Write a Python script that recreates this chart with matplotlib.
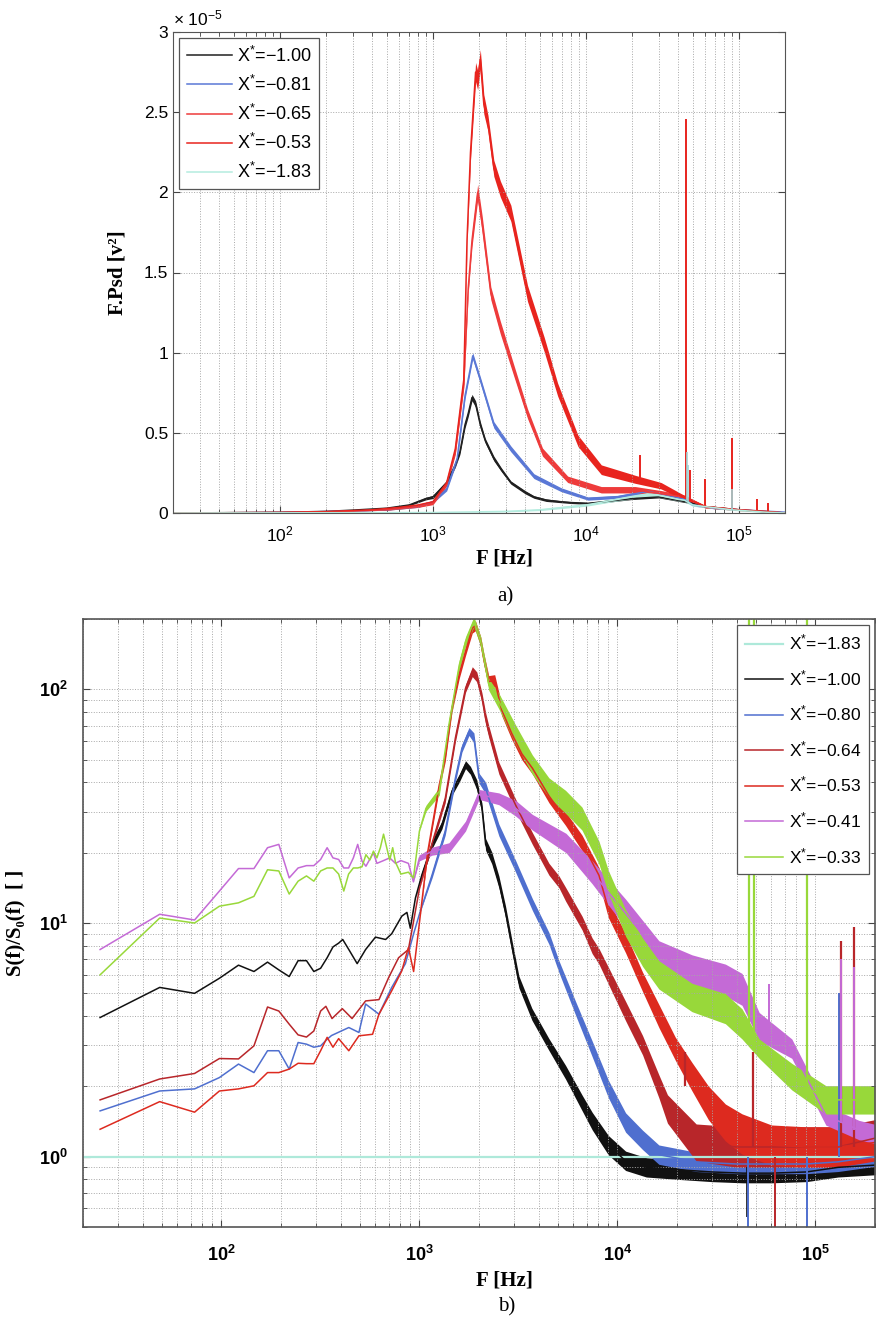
import matplotlib.pyplot as plt
import numpy as np

plt.rcParams['font.family'] = ['Liberation Sans', 'DejaVu Sans']
plt.rcParams['mathtext.fontset'] = 'custom'
plt.rcParams['mathtext.rm'] = 'Liberation Sans'
plt.rcParams['mathtext.it'] = 'Liberation Sans:italic'
plt.rcParams['mathtext.bf'] = 'Liberation Sans:bold'

# ---------------- panel a) : F.Psd in units of 1e-5 v^2 ----------------
a_black_f = [20, 100, 200, 300, 500, 700, 900, 1000, 1230, 1400,
             1500, 1620, 1700, 1800, 1900, 2040, 2200, 2500, 2800, 3230,
             4000, 4570, 5500, 6900, 8000, 10300, 13000, 20000, 30000, 45000,
             60000, 100000, 200000]
a_black_y = [0.0, 0.004, 0.01, 0.018, 0.03, 0.05, 0.09, 0.10, 0.19, 0.30,
             0.38, 0.55, 0.62, 0.72, 0.68, 0.55, 0.45, 0.34, 0.27, 0.19,
             0.13, 0.10, 0.08, 0.07, 0.065, 0.06, 0.07, 0.09, 0.10, 0.07,
             0.04, 0.02, 0.0]
a_black_s = [0, 0, 0, 0, 0.004, 0.005, 0.008, 0.01, 0.012, 0.015,
             0.015, 0.02, 0.02, 0.02, 0.02, 0.02, 0.015, 0.015, 0.012, 0.01,
             0.01, 0.008, 0.008, 0.006, 0.006, 0.006, 0.006, 0.006, 0.006, 0.006,
             0.004, 0.003, 0]

a_blue_f = [20, 100, 300, 500, 800, 1000, 1230, 1440, 1620, 1820,
            2040, 2500, 3230, 4570, 6900, 10300, 16000, 25600, 38000, 44000,
            50000, 70000, 100000, 200000]
a_blue_y = [0.0, 0.003, 0.012, 0.02, 0.04, 0.07, 0.15, 0.34, 0.73, 0.98,
            0.83, 0.55, 0.40, 0.23, 0.145, 0.09, 0.10, 0.135, 0.10, 0.085,
            0.05, 0.03, 0.02, 0.005]
a_blue_s = [0, 0, 0, 0.003, 0.005, 0.008, 0.012, 0.015, 0.02, 0.02,
            0.02, 0.02, 0.018, 0.015, 0.012, 0.01, 0.01, 0.01, 0.01, 0.008,
            0.006, 0.005, 0.003, 0]

a_red65_f = [20, 100, 300, 500, 800, 1000, 1230, 1400, 1590, 1700,
             1800, 1960, 2100, 2390, 2750, 3400, 4150, 5200, 7600, 12600,
             21000, 31000, 43000, 60000, 100000, 200000]
a_red65_y = [0.0, 0.003, 0.012, 0.02, 0.04, 0.06, 0.18, 0.38, 0.80, 1.40,
             1.70, 2.00, 1.80, 1.37, 1.16, 0.88, 0.62, 0.38, 0.21, 0.145,
             0.145, 0.12, 0.10, 0.04, 0.02, 0.0]
a_red65_s = [0, 0, 0, 0.003, 0.005, 0.008, 0.012, 0.015, 0.02, 0.03,
             0.04, 0.05, 0.05, 0.04, 0.04, 0.035, 0.03, 0.025, 0.02, 0.02,
             0.02, 0.02, 0.015, 0.008, 0.005, 0]

a_red53_f = [20, 100, 200, 400, 600, 800, 1000, 1230, 1400, 1590,
             1670, 1760, 1900, 1960, 2040, 2150, 2290, 2500, 2760, 3230,
             3700, 4150, 5340, 6530, 8870, 12600, 21000, 31000, 43000, 60000,
             100000, 150000, 200000]
a_red53_y = [0.0, 0.003, 0.008, 0.02, 0.035, 0.05, 0.07, 0.19, 0.40, 0.83,
             1.70, 2.25, 2.75, 2.70, 2.83, 2.55, 2.43, 2.15, 2.02, 1.87,
             1.60, 1.37, 1.05, 0.77, 0.45, 0.27, 0.21, 0.17, 0.10, 0.04,
             0.02, 0.01, 0.0]
a_red53_s = [0, 0, 0, 0.003, 0.004, 0.005, 0.008, 0.012, 0.015, 0.02,
             0.03, 0.05, 0.06, 0.06, 0.06, 0.06, 0.05, 0.05, 0.05, 0.05,
             0.05, 0.05, 0.045, 0.04, 0.035, 0.03, 0.025, 0.02, 0.015, 0.008,
             0.005, 0.003, 0]

a_cyan_f = [20, 1000, 3000, 5000, 10000, 15000, 20000, 25000, 30000, 40000,
            44000, 50000, 60000, 90000, 150000, 200000]
a_cyan_y = [0.0, 0.003, 0.01, 0.02, 0.05, 0.08, 0.10, 0.115, 0.11, 0.085,
            0.08, 0.05, 0.04, 0.02, 0.005, 0.0]
a_cyan_s = [0, 0, 0.003, 0.005, 0.008, 0.01, 0.012, 0.012, 0.012, 0.01,
            0.01, 0.008, 0.006, 0.004, 0.002, 0]

# narrow peaks (f, base, top)
a_spk_red_f = [22600, 45000, 48000, 60000, 90000, 132000, 155000]
a_spk_red_lo = [0.20, 0.10, 0.08, 0.04, 0.03, 0.01, 0.01]
a_spk_red_hi = [0.36, 2.46, 0.27, 0.21, 0.47, 0.09, 0.06]
a_spk_cyan_f = [45500, 46500, 90000]
a_spk_cyan_lo = [0.08, 0.07, 0.02]
a_spk_cyan_hi = [0.38, 0.30, 0.15]

a_labels = ['X$^{*}$=\u22121.00', 'X$^{*}$=\u22120.81', 'X$^{*}$=\u22120.65',
            'X$^{*}$=\u22120.53', 'X$^{*}$=\u22121.83']
a_yticks = [0, 0.5, 1, 1.5, 2, 2.5, 3]

# ---------------- panel b) : S(f)/S0(f) ----------------
b_cyan_f = [20, 200000]
b_cyan_y = [1.0, 1.0]
b_cyan_s = [1.0, 1.0]

b_black_f = [24.4, 48.8, 73.2, 97.7, 122, 146, 171, 195, 220, 244,
             269, 293, 317, 342, 366, 391, 410, 440, 485, 535,
             600, 675, 725, 815, 865, 900, 955, 1030, 1160, 1300,
             1460, 1590, 1710, 1810, 1950, 2070, 2160, 2320, 2520, 2720,
             2930, 3180, 3700, 4500, 5470, 6630, 7460, 9000, 11000, 14000,
             20000, 30000, 43000, 60000, 90000, 130000, 200000]
b_black_y = [3.94, 5.3, 5.0, 5.8, 6.6, 6.2, 6.8, 6.3, 5.9, 6.9,
             6.9, 6.2, 6.4, 7.1, 7.9, 8.2, 8.5, 7.7, 6.7, 7.7,
             8.7, 8.5, 9.0, 10.7, 11.1, 9.5, 12.8, 16.1, 21.7, 26.3,
             36.6, 41.7, 47.6, 45.0, 39.0, 31.0, 21.7, 19.0, 15.0, 11.2,
             8.0, 5.6, 4.07, 3.03, 2.3, 1.7, 1.42, 1.12, 0.96, 0.9,
             0.88, 0.86, 0.85, 0.85, 0.86, 0.9, 0.92]
b_black_s = [1.0] * 27 + [1.03, 1.04, 1.04, 1.04, 1.04, 1.04, 1.04, 1.05, 1.05, 1.06,
                          1.06, 1.06, 1.06, 1.06, 1.06, 1.06, 1.06, 1.07, 1.08, 1.09,
                          1.1, 1.1, 1.1, 1.1, 1.1, 1.1, 1.1, 1.1, 1.1, 1.1]

b_blue_f = [24.4, 48.8, 73.2, 97.7, 122, 146, 171, 195, 220, 244,
            269, 293, 317, 342, 360, 440, 495, 535, 625, 725,
            850, 935, 1000, 1160, 1350, 1520, 1640, 1780, 1885, 2000,
            2160, 2520, 3060, 3720, 4510, 5070, 6160, 7450, 9000, 11000,
            13400, 16200, 25000, 40000, 60000, 90000, 130000, 200000]
b_blue_y = [1.57, 1.91, 1.95, 2.18, 2.49, 2.29, 2.84, 2.84, 2.37, 3.08,
            3.03, 2.94, 2.98, 3.18, 3.3, 3.57, 3.4, 4.5, 4.07, 5.3,
            6.7, 9.0, 10.9, 16.1, 24.7, 41.7, 56.0, 66.0, 62.0, 41.7,
            37.8, 25.0, 17.5, 12.0, 8.6, 6.5, 4.3, 2.9, 1.95, 1.4,
            1.18, 1.02, 0.95, 0.93, 0.93, 0.93, 0.95, 1.0]
b_blue_s = [1.0] * 23 + [1.03, 1.04, 1.04, 1.04, 1.04, 1.05, 1.05, 1.06, 1.06, 1.06,
                         1.06, 1.06, 1.06, 1.07, 1.08, 1.09, 1.1, 1.1, 1.1, 1.1,
                         1.1, 1.1, 1.1, 1.1, 1.1]

b_red64_f = [24.4, 48.8, 73.2, 97.7, 122, 146, 171, 195, 220, 244,
             269, 293, 317, 337, 362, 408, 457, 535, 625, 700,
             785, 880, 935, 1000, 1160, 1350, 1520, 1710, 1850, 1950,
             2070, 2160, 2240, 2520, 3060, 3720, 4510, 5070, 5470, 6630,
             7450, 8070, 11000, 13400, 16200, 17900, 25000, 40000, 60000, 90000,
             130000, 200000]
b_red64_y = [1.75, 2.15, 2.27, 2.63, 2.62, 2.98, 4.37, 4.2, 3.69, 3.32,
             3.25, 3.45, 4.2, 4.4, 3.9, 4.3, 3.9, 4.64, 4.7, 5.85,
             7.1, 7.7, 10.2, 14.0, 22.0, 34.0, 62.0, 101.0, 119.0, 113.0,
             92.0, 75.0, 66.0, 46.0, 32.0, 23.0, 17.0, 15.0, 13.3, 10.0,
             8.0, 7.2, 4.2, 3.0, 2.0, 1.6, 1.15, 1.1, 1.1, 1.1,
             1.1, 1.2]
b_red64_s = [1.0] * 24 + [1.03, 1.04, 1.04, 1.04, 1.05, 1.05, 1.05, 1.06, 1.06, 1.06,
                          1.06, 1.06, 1.06, 1.06, 1.07, 1.07, 1.08, 1.08, 1.1, 1.1,
                          1.12, 1.15, 1.2, 1.22, 1.22, 1.22, 1.22, 1.2]

b_red53_f = [24.4, 48.8, 73.2, 97.7, 122, 146, 171, 195, 220, 244,
             269, 293, 317, 342, 366, 391, 440, 495, 580, 625,
             725, 815, 880, 935, 1000, 1100, 1260, 1350, 1460, 1590,
             1710, 1850, 1920, 2040, 2110, 2240, 2400, 2600, 2920, 3290,
             3720, 4510, 5470, 6630, 8070, 9000, 11000, 13400, 16200, 19600,
             23800, 28800, 35100, 42600, 60000, 90000, 130000, 200000]
b_red53_y = [1.31, 1.72, 1.55, 1.91, 1.95, 2.01, 2.29, 2.29, 2.37, 2.51,
             2.5, 2.5, 2.84, 3.24, 2.94, 3.2, 2.84, 3.29, 3.34, 4.07,
             5.13, 6.24, 7.85, 6.2, 10.0, 20.0, 39.0, 51.0, 83.0, 116.0,
             145.0, 183.0, 187.0, 160.0, 136.0, 108.0, 109.0, 82.0, 65.0, 53.0,
             46.0, 35.0, 28.0, 22.0, 16.0, 11.5, 8.2, 5.6, 4.0, 2.9,
             2.2, 1.7, 1.4, 1.25, 1.12, 1.1, 1.1, 1.15]
b_red53_s = [1.0] * 25 + [1.03, 1.04, 1.04, 1.04, 1.04, 1.04, 1.05, 1.05, 1.05, 1.06,
                          1.06, 1.06, 1.06, 1.06, 1.06, 1.06, 1.07, 1.07, 1.08, 1.08,
                          1.09, 1.1, 1.1, 1.12, 1.12, 1.15, 1.18, 1.2, 1.22, 1.22,
                          1.22, 1.22, 1.2]

b_purple_f = [24.4, 48.8, 73.2, 97.7, 122, 146, 171, 195, 220, 244,
              269, 293, 317, 342, 366, 391, 415, 439, 464, 488,
              513, 537, 586, 610, 659, 708, 757, 806, 880, 933,
              1000, 1160, 1410, 1710, 2000, 2520, 3060, 3720, 5500, 7450,
              11000, 16200, 23800, 35100, 42600, 52000, 76000, 113000, 166000, 200000]
b_purple_y = [7.7, 10.9, 10.3, 13.7, 17.1, 17.1, 21.0, 21.7, 15.6, 17.2,
              17.6, 17.6, 18.7, 21.0, 19.0, 18.7, 17.2, 17.2, 19.0, 21.7,
              18.4, 17.5, 20.0, 18.0, 18.5, 19.0, 18.0, 18.5, 18.0, 15.0,
              19.0, 20.3, 21.0, 26.0, 35.5, 34.0, 31.0, 27.0, 22.0, 16.5,
              11.0, 7.3, 6.3, 5.7, 5.2, 3.6, 2.9, 1.5, 1.3, 1.25]
b_purple_s = [1.0] * 30 + [1.03, 1.04, 1.05, 1.05, 1.05, 1.06, 1.08, 1.08, 1.1, 1.12,
                           1.15, 1.15, 1.16, 1.17, 1.17, 1.15, 1.1, 1.1, 1.1, 1.1]

b_green_f = [24.4, 48.8, 73.2, 97.7, 122, 146, 171, 195, 220, 244,
             269, 293, 317, 342, 366, 391, 415, 439, 464, 488,
             513, 537, 562, 586, 610, 635, 659, 684, 708, 733,
             757, 781, 806, 880, 933, 1000, 1080, 1260, 1410, 1590,
             1710, 1885, 2040, 2240, 2520, 3060, 3720, 4510, 5470, 6620,
             8070, 9000, 11000, 13400, 16200, 23800, 35100, 42600, 52000, 76000,
             113000, 200000]
b_green_y = [6.0, 10.5, 10.0, 11.8, 12.2, 13.0, 16.9, 16.7, 13.3, 15.1,
             15.9, 15.1, 16.7, 17.2, 17.2, 16.2, 13.7, 16.2, 17.2, 17.2,
             17.4, 19.6, 18.6, 20.3, 19.0, 21.0, 24.0, 21.0, 18.6, 21.0,
             18.2, 17.2, 16.2, 16.5, 15.6, 24.7, 31.0, 36.6, 70.6, 127.0,
             160.0, 195.0, 160.0, 105.0, 89.0, 64.0, 47.6, 38.0, 33.0, 28.0,
             20.0, 15.0, 10.0, 7.5, 6.0, 4.8, 4.3, 3.7, 2.9, 2.2,
             1.75, 1.75]
b_green_s = [1.0] * 36 + [1.03, 1.04, 1.05, 1.05,
                          1.05, 1.05, 1.05, 1.06, 1.08, 1.1, 1.1, 1.1, 1.12, 1.12,
                          1.12, 1.12, 1.14, 1.15, 1.15, 1.15, 1.16, 1.16, 1.1, 1.14,
                          1.15, 1.15]

# narrow peaks / dips (f, from, to)
b_spk_green = ([46000, 48700, 90500], [3.0, 2.9, 1.8], [200, 200, 200])
b_spk_purple = ([58000, 134000, 157000], [3.0, 1.4, 1.3], [5.5, 7.0, 6.5])
b_spk_red53 = ([22000, 48600, 134000, 157000], [2.0, 1.1, 1.1, 1.1], [2.8, 2.8, 8.4, 9.6])
b_spk_red64 = ([62500], [0.5], [1.0])
b_spk_blue = ([45500, 90500, 131000], [0.5, 0.5, 1.0], [1.0, 1.0, 5.0])
b_spk_black = ([45000], [0.55], [0.9])

b_labels = ['X$^{*}$=\u22121.83', 'X$^{*}$=\u22121.00', 'X$^{*}$=\u22120.80',
            'X$^{*}$=\u22120.64', 'X$^{*}$=\u22120.53', 'X$^{*}$=\u22120.41',
            'X$^{*}$=\u22120.33']


def band_lin(ax, f, y, s, color, label, lw=1.1):
    f = np.array(f); y = np.array(y); s = np.array(s)
    ax.fill_between(f, y - s, y + s, color=color, lw=0)
    line, = ax.plot(f, y, color=color, lw=lw, label=label)
    return line


def band_log(ax, f, y, s, color, label, lw=1.1):
    f = np.array(f); y = np.array(y); s = np.array(s)
    ax.fill_between(f, y / s, y * s, color=color, lw=0)
    line, = ax.plot(f, y, color=color, lw=lw, label=label)
    return line


W, H = 879, 1329
fig = plt.figure(figsize=(W / 100, H / 100), dpi=100)
serif = ['Liberation Serif', 'DejaVu Serif']
grid_kw = dict(ls=':', color='#a8a8a8', lw=0.7)

# ------------------------------ a) ------------------------------
ax1 = fig.add_axes([173 / W, 1 - 513 / H, 612 / W, 481 / H])
ax1.set_xscale('log')
c_a = ['#202020', '#5a78d6', '#ee3b3b', '#e8241e', '#b4ecdf']
band_lin(ax1, a_black_f, a_black_y, a_black_s, c_a[0], a_labels[0])
band_lin(ax1, a_blue_f, a_blue_y, a_blue_s, c_a[1], a_labels[1])
band_lin(ax1, a_red65_f, a_red65_y, a_red65_s, c_a[2], a_labels[2])
band_lin(ax1, a_red53_f, a_red53_y, a_red53_s, c_a[3], a_labels[3])
ax1.vlines(a_spk_red_f, a_spk_red_lo, a_spk_red_hi, color=c_a[3], lw=1.4)
band_lin(ax1, a_cyan_f, a_cyan_y, a_cyan_s, c_a[4], a_labels[4])
ax1.vlines(a_spk_cyan_f, a_spk_cyan_lo, a_spk_cyan_hi, color='#9fd6d8', lw=1.2)

ax1.set_xlim(20, 2e5)
ax1.set_ylim(0, 3)
ax1.set_yticks(a_yticks)
ax1.set_yticklabels(['%g' % v for v in a_yticks])
ax1.set_xticks([1e2, 1e3, 1e4, 1e5])
ax1.set_xticklabels(['$10^{2}$', '$10^{3}$', '$10^{4}$', '$10^{5}$'])
ax1.tick_params(which='both', direction='in', top=True, right=True,
                labelsize=12.5, color='#444444')
ax1.tick_params(axis='x', pad=8)
ax1.tick_params(which='major', length=5)
ax1.tick_params(which='minor', length=3)
ax1.grid(True, which='both', axis='x', **grid_kw)
ax1.grid(True, which='major', axis='y', **grid_kw)
for sp in ax1.spines.values():
    sp.set_color('#555555')
ax1.text(0.0, 1.008, '\u00d7 10$^{-5}$', transform=ax1.transAxes,
         fontsize=12.5, ha='left', va='bottom')
ax1.set_xlabel('F [Hz]', family=serif, fontweight='bold', fontsize=15)
ax1.xaxis.set_label_coords(0.542, -0.074)
ax1.set_ylabel('F.Psd [v\u00b2]', family=serif, fontweight='bold', fontsize=15)
ax1.yaxis.set_label_coords(-0.075, 0.5)
leg1 = ax1.legend(loc='upper left', fontsize=13, frameon=True, fancybox=False,
                  edgecolor='#555555', framealpha=1, borderaxespad=0.35,
                  handlelength=2.5, labelspacing=0.5, borderpad=0.4,
                  handletextpad=0.3)
leg1.get_frame().set_linewidth(0.9)
fig.text(505 / W, 1 - 597 / H, 'a)', family=serif, fontsize=15,
         ha='center', va='center')

# ------------------------------ b) ------------------------------
ax2 = fig.add_axes([83 / W, 1 - 1227 / H, 792 / W, 608 / H])
ax2.set_xscale('log')
ax2.set_yscale('log')
c_b = ['#aee9da', '#111111', '#4f6fcf', '#b8262a', '#dd2a1f', '#c46ad6', '#98d83a']
band_log(ax2, b_cyan_f, b_cyan_y, b_cyan_s, c_b[0], b_labels[0], lw=1.6)
band_log(ax2, b_black_f, b_black_y, b_black_s, c_b[1], b_labels[1])
ax2.vlines(*b_spk_black, color=c_b[1], lw=1.2)
band_log(ax2, b_blue_f, b_blue_y, b_blue_s, c_b[2], b_labels[2])
ax2.vlines(*b_spk_blue, color=c_b[2], lw=1.4)
band_log(ax2, b_red64_f, b_red64_y, b_red64_s, c_b[3], b_labels[3])
ax2.vlines(*b_spk_red64, color=c_b[3], lw=1.4)
band_log(ax2, b_red53_f, b_red53_y, b_red53_s, c_b[4], b_labels[4])
ax2.vlines(*b_spk_red53, color=c_b[3], lw=1.6)
band_log(ax2, b_purple_f, b_purple_y, b_purple_s, c_b[5], b_labels[5])
ax2.vlines(*b_spk_purple, color=c_b[5], lw=1.4)
band_log(ax2, b_green_f, b_green_y, b_green_s, c_b[6], b_labels[6])
ax2.vlines(*b_spk_green, color=c_b[6], lw=1.6)

ax2.set_xlim(20, 2e5)
ax2.set_ylim(0.5, 200)
ax2.set_xticks([1e2, 1e3, 1e4, 1e5])
ax2.set_xticklabels([r'$\mathbf{10^{2}}$', r'$\mathbf{10^{3}}$',
                     r'$\mathbf{10^{4}}$', r'$\mathbf{10^{5}}$'])
ax2.set_yticks([1, 10, 100])
ax2.set_yticklabels([r'$\mathbf{10^{0}}$', r'$\mathbf{10^{1}}$', r'$\mathbf{10^{2}}$'])
ax2.tick_params(which='both', direction='in', top=True, right=True,
                labelsize=13, color='#444444')
ax2.tick_params(axis='x', pad=13)
ax2.tick_params(axis='y', pad=11)
ax2.tick_params(which='major', length=5)
ax2.tick_params(which='minor', length=3)
ax2.grid(True, which='both', **grid_kw)
for sp in ax2.spines.values():
    sp.set_color('#555555')
    sp.set_linewidth(1.2)
ax2.set_xlabel('F [Hz]', family=serif, fontweight='bold', fontsize=15)
ax2.xaxis.set_label_coords(0.532, -0.071)
ax2.set_ylabel('S(f)/S\u2080(f)  [ ]', family=serif, fontweight='bold', fontsize=15)
ax2.yaxis.set_label_coords(-0.072, 0.5)
leg2 = ax2.legend(loc='upper right', fontsize=12.5, frameon=True, fancybox=False,
                  edgecolor='#555555', framealpha=1, borderaxespad=0.35,
                  handlelength=2.2, labelspacing=0.9, borderpad=0.45,
                  handletextpad=0.3)
leg2.get_frame().set_linewidth(0.9)
fig.text(507 / W, 1 - 1307 / H, 'b)', family=serif, fontsize=15,
         ha='center', va='center')

fig.savefig('out.png', dpi=100, facecolor='white')
